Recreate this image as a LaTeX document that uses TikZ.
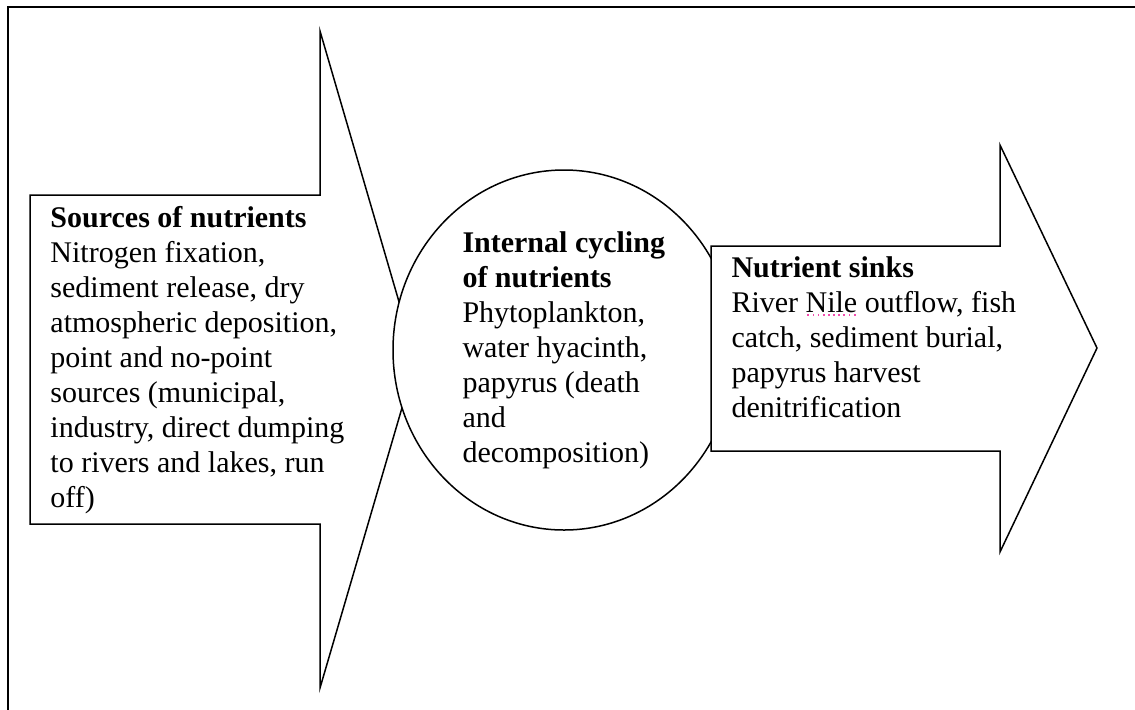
\documentclass[tikz,border=0pt]{standalone}
\usepackage{fontspec}
\setmainfont{Liberation Serif}
\usetikzlibrary{positioning}

% Word-style spelling mark under a word
\newsavebox\spellbox
\newcommand\spellmark[1]{\sbox\spellbox{#1}%
    \rlap{\raisebox{-0.28ex}{\textcolor{magenta!70}{\hbox to \wd\spellbox{%
        \xleaders\hbox to 0.17em{\hss\rule{0.06em}{0.06em}\hss}\hfill}}}}%
    \usebox\spellbox}

\begin{document}
\begin{tikzpicture}[x=0.4pt, y=-0.4pt,
            arrowbody/.style = {draw, fill=white, line width=0.6pt, line join=miter},
            frame/.style = {draw, line width=1pt},
            txt/.style = {anchor=base west, align=left, inner sep=0pt,
                font=\fontsize{12}{14}\selectfont}]
            \useasboundingbox (0,0) rectangle (1135,709);
            \draw[frame] (8,715) -- (8,7) -- (1140,7);
            % sources
            \draw[arrowbody] (30,195) -- (320,195) -- (320,31) -- (416,360)
                -- (320,688) -- (320,524) -- (30,524) -- cycle;
            % internal cycling
            \draw[arrowbody] (564,350) ellipse [x radius=171, y radius=180];
            % sinks
            \draw[arrowbody] (711,246) -- (1000,246) -- (1000,145) -- (1097,348)
                -- (1000,552) -- (1000,451) -- (711,451) -- cycle;
            % base = last line
            \node[txt] (src) at (50,507) {\textbf{Sources of nutrients}\\
                Nitrogen fixation,\\ sediment release, dry\\ atmospheric deposition,\\
                point and no-point\\ sources (municipal,\\ industry, direct dumping\\
                to rivers and lakes, run\\ off)};
            \node[txt] (cyc) at (462,462) {\textbf{Internal cycling}\\
                \textbf{of nutrients}\\ Phytoplankton,\\ water hyacinth,\\
                papyrus (death\\ and\\ decomposition)};
            \node[txt] (snk) at (731,417) {\textbf{Nutrient sinks}\\
                River \spellmark{Nile} outflow, fish\\ catch, sediment burial,\\
                papyrus harvest\\ denitrification};
        \end{tikzpicture}
\end{document}
